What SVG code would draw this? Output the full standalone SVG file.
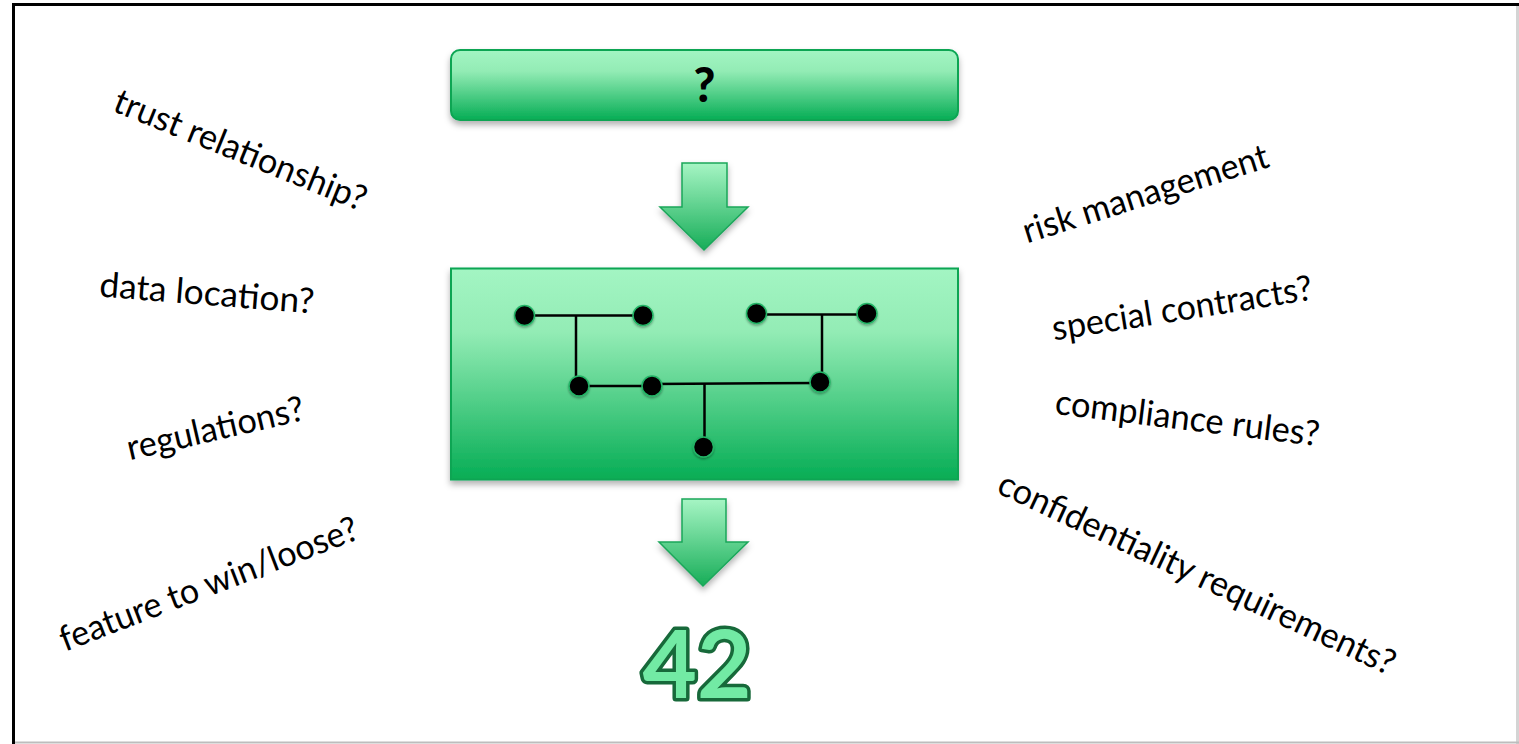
<svg xmlns="http://www.w3.org/2000/svg" width="1519" height="744" viewBox="0 0 1519 744">
<defs>
<linearGradient id="gBox" x1="0" y1="0" x2="0" y2="1">
<stop offset="0" stop-color="#a3f5c3"/>
<stop offset="0.3" stop-color="#93ecb5"/>
<stop offset="1" stop-color="#06ad55"/>
</linearGradient>
<linearGradient id="gArrow" x1="0" y1="0" x2="0" y2="1">
<stop offset="0" stop-color="#a6f5c4"/>
<stop offset="1" stop-color="#17ad58"/>
</linearGradient>
<filter id="sh" x="-10%" y="-10%" width="120%" height="130%">
<feDropShadow dx="0" dy="4" stdDeviation="3" flood-color="#000" flood-opacity="0.3"/>
</filter>
<filter id="nsh" x="-50%" y="-50%" width="200%" height="200%">
<feDropShadow dx="0" dy="1.5" stdDeviation="1.2" flood-color="#000" flood-opacity="0.35"/>
</filter>
<filter id="fsh" x="-5%" y="-5%" width="110%" height="110%">
<feGaussianBlur stdDeviation="3"/>
</filter>
<style>
.box{fill:url(#gBox);stroke:#08a553;stroke-width:2}
.arrow{fill:url(#gArrow);stroke:#1aa65a;stroke-width:1.5;stroke-linejoin:miter}
.node{fill:#000;stroke:#24b466;stroke-width:1.5}
.wire{stroke:#000;stroke-width:2.5;fill:none}
.lbl{font-family:Lato,"Open Sans","Liberation Sans",sans-serif;font-size:35px;fill:#000;text-anchor:middle}
</style>
</defs>
<rect x="0" y="0" width="1519" height="744" fill="#fff"/>
<g id="frame">
<path d="M16 9 H1519" stroke="#ccc" stroke-width="5" filter="url(#fsh)" fill="none"/>
<path d="M18 6 V744" stroke="#ccc" stroke-width="5" filter="url(#fsh)" fill="none"/>
<line x1="1517.5" y1="5" x2="1517.5" y2="744" stroke="#d4d4d4" stroke-width="3"/>
<line x1="13" y1="742.5" x2="1519" y2="742.5" stroke="#bdbdbd" stroke-width="2"/>
<line x1="13.5" y1="3" x2="13.5" y2="744" stroke="#000" stroke-width="3"/>
<line x1="12" y1="4.5" x2="1519" y2="4.5" stroke="#000" stroke-width="3"/>
</g>
<g id="top-box">
<rect class="box" x="451" y="50" width="507" height="70" rx="9" filter="url(#sh)"/>
<text x="704.5" y="102" font-family="Lato,'Open Sans',sans-serif" font-weight="900" font-size="47" text-anchor="middle" fill="#000">?</text>
</g>
<g id="middle-box">
<rect class="box" x="451" y="268.5" width="507" height="211" filter="url(#sh)"/>
</g>
<g id="connectors">
<polygon id="arrow1" class="arrow" filter="url(#sh)" points="682,163 727,163 727,207 748,207 704,250 660,207 682,207"/>
<polygon id="arrow2" class="arrow" filter="url(#sh)" points="682,499 726,499 726,542 748,542 703,586 659,542 682,542"/>
<g id="wires">
<polyline class="wire" points="524.5,315.5 643,315.5"/>
<polyline class="wire" points="576,315.5 576,385"/>
<polyline class="wire" points="579,386 652,386"/>
<polyline class="wire" points="652,384 820,383"/>
<polyline class="wire" points="704.5,384 704.5,447"/>
<polyline class="wire" points="756.5,314.5 867,314.5"/>
<polyline class="wire" points="822,314.5 822,382"/>
</g>
</g>
<g id="nodes" filter="url(#nsh)">
<circle id="n1" class="node" cx="524.5" cy="315.5" r="10"/>
<circle id="n2" class="node" cx="643" cy="315.5" r="10"/>
<circle id="n3" class="node" cx="756.5" cy="313.5" r="10"/>
<circle id="n4" class="node" cx="867" cy="313.5" r="10"/>
<circle id="n5" class="node" cx="579" cy="386" r="10"/>
<circle id="n6" class="node" cx="652" cy="386" r="10"/>
<circle id="n7" class="node" cx="820" cy="382" r="10"/>
<circle id="n8" class="node" cx="703.5" cy="447" r="10"/>
</g>
<g id="result">
<text x="697" y="698" font-family="Lato,'Open Sans',sans-serif" font-weight="bold" font-size="94" text-anchor="middle" fill="#72eaa4" stroke="#17693a" stroke-width="7" stroke-linejoin="round" paint-order="stroke">42</text>
</g>
<g id="labels-left">
<text class="lbl" transform="translate(236,161) rotate(22)" textLength="269" lengthAdjust="spacingAndGlyphs">trust relationship?</text>
<text class="lbl" transform="translate(206,305) rotate(4.5)" textLength="215" lengthAdjust="spacingAndGlyphs">data location?</text>
<text class="lbl" transform="translate(218,440) rotate(-13)" textLength="181" lengthAdjust="spacingAndGlyphs">regulations?</text>
<text class="lbl" transform="translate(213,595) rotate(-21)" textLength="317" lengthAdjust="spacingAndGlyphs">feature to win/loose?</text>
</g>
<g id="labels-right">
<text class="lbl" transform="translate(1149,205) rotate(-17.5)" textLength="256" lengthAdjust="spacingAndGlyphs">risk management</text>
<text class="lbl" transform="translate(1184,320) rotate(-9)" textLength="263" lengthAdjust="spacingAndGlyphs">special contracts?</text>
<text class="lbl" transform="translate(1186,430) rotate(7)" textLength="266" lengthAdjust="spacingAndGlyphs">compliance rules?</text>
<text class="lbl" transform="translate(1192,584) rotate(25)" textLength="434" lengthAdjust="spacingAndGlyphs">confidentiality requirements?</text>
</g>
</svg>
